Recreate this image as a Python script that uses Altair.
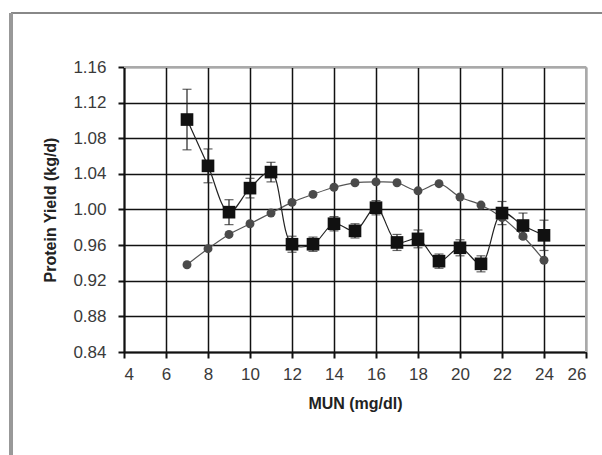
import altair as alt
import pandas as pd

mun = [7, 8, 9, 10, 11, 12, 13, 14, 15, 16, 17, 18, 19, 20, 21, 22, 23, 24]
sq_y = [1.101, 1.049, 0.997, 1.024, 1.042, 0.961, 0.961, 0.984, 0.976, 1.002,
        0.963, 0.967, 0.942, 0.957, 0.939, 0.996, 0.982, 0.971]
sq_err = [0.034, 0.019, 0.014, 0.011, 0.011, 0.009, 0.008, 0.008, 0.008, 0.008,
          0.009, 0.010, 0.008, 0.009, 0.009, 0.013, 0.014, 0.017]
ci_y = [0.938, 0.956, 0.972, 0.984, 0.996, 1.008, 1.017, 1.025, 1.030, 1.031,
        1.030, 1.021, 1.029, 1.014, 1.005, 0.991, 0.970, 0.943]

x_ticks = [4, 6, 8, 10, 12, 14, 16, 18, 20, 22, 24, 26]
y_ticks = [0.84, 0.88, 0.92, 0.96, 1.00, 1.04, 1.08, 1.12, 1.16]

sq = pd.DataFrame({"x": mun, "y": sq_y,
                   "lo": [round(v - e, 4) for v, e in zip(sq_y, sq_err)],
                   "hi": [round(v + e, 4) for v, e in zip(sq_y, sq_err)]})
ci = pd.DataFrame({"x": mun, "y": ci_y})

W, H = 462, 285
FONT = "Liberation Sans"

xs = alt.Scale(domain=[4, 26], nice=False, zero=False)
ys = alt.Scale(domain=[0.84, 1.16], nice=False, zero=False)

AX = dict(grid=True, gridColor="#111", gridWidth=1.5, domainColor="#111",
          domainWidth=2, tickColor="#111", tickWidth=2, tickSize=6,
          labelFontSize=17, labelColor="#3a3a3a", labelFont=FONT,
          labelOverlap=False, titleFont=FONT, titleFontSize=16,
          titleFontWeight="bold", titleColor="#222")
xax = alt.Axis(values=x_ticks, title="MUN (mg/dl)", labelPadding=8,
               titlePadding=13, tickCount=12, **AX)
yax = alt.Axis(values=y_ticks, format=".2f", title="Protein Yield (kg/d)",
               labelPadding=12, titlePadding=14, tickCount=9, **AX)


def X(f="x"):
    return alt.X(f + ":Q", scale=xs, axis=xax)


def Y(f="y"):
    return alt.Y(f + ":Q", scale=ys, axis=yax)


ci_line = alt.Chart(ci).mark_line(color="#555", strokeWidth=1.2,
                                  interpolate="catmull-rom").encode(x=X(), y=Y())
ci_pts = alt.Chart(ci).mark_point(shape="circle", filled=True, color="#4a4a4a",
                                  size=80, opacity=1).encode(x=X(), y=Y())

err = alt.Chart(sq).mark_rule(color="#222", strokeWidth=1.2).encode(
    x=X(), y=Y("lo"), y2="hi:Q")
cap_hi = alt.Chart(sq).mark_tick(color="#222", thickness=1.2, size=9,
                                 orient="horizontal").encode(x=X(), y=Y("hi"))
cap_lo = alt.Chart(sq).mark_tick(color="#222", thickness=1.2, size=9,
                                 orient="horizontal").encode(x=X(), y=Y("lo"))
sq_line = alt.Chart(sq).mark_line(color="#222", strokeWidth=1.2,
                                  interpolate="catmull-rom").encode(x=X(), y=Y())
sq_pts = alt.Chart(sq).mark_point(shape="square", filled=True, color="#111",
                                  size=160, opacity=1).encode(x=X(), y=Y())

frame_top = alt.Chart(ci).mark_rule(color="#888", strokeWidth=2).encode(
    x=alt.value(-113), x2=alt.value(W + 20), y=alt.value(-54))
frame_left = alt.Chart(ci).mark_rule(color="#999", strokeWidth=2.5).encode(
    x=alt.value(-113), y=alt.value(-54), y2=alt.value(H + 110))
plot_top = alt.Chart(ci).mark_rule(color="#aaa", strokeWidth=1.5).encode(
    x=alt.value(0), x2=alt.value(W), y=alt.value(0))
plot_right = alt.Chart(ci).mark_rule(color="#aaa", strokeWidth=1.5).encode(
    x=alt.value(W), y=alt.value(0), y2=alt.value(H))

chart = alt.layer(plot_top, plot_right, err, cap_hi, cap_lo, ci_line, ci_pts,
                  sq_line, sq_pts, frame_top, frame_left).properties(
    width=W, height=H,
    autosize=alt.AutoSizeParams(type="none"),
    padding={"left": 124, "top": 67, "right": 16, "bottom": 103},
    background="white",
).configure_view(stroke=None)

chart.save("out.html", embed_options={"renderer": "svg", "actions": False})
